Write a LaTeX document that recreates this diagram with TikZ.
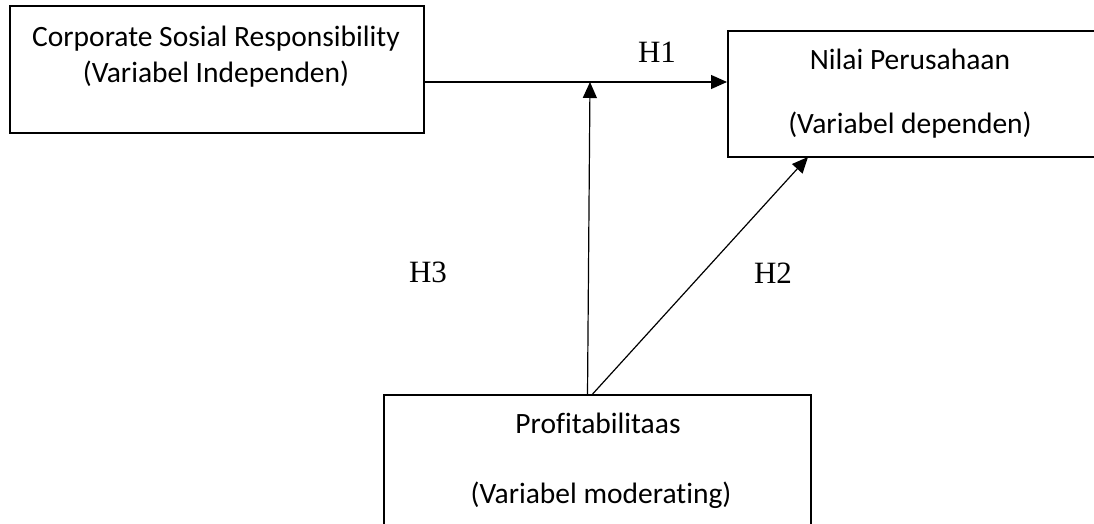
\documentclass[tikz,border=0pt]{standalone}
\usepackage{fontspec}
\setmainfont[Ligatures=NoCommon]{Carlito}
\newfontfamily\hfont{Liberation Serif}
\usetikzlibrary{arrows.meta}
\begin{document}
\begin{tikzpicture}[x=1pt,y=-1pt,
  boxnode/.style={draw,line width=2pt,inner sep=0pt,minimum width=#1},
  txt/.style={anchor=base,inner sep=0pt,font=\fontsize{29.5}{34}\selectfont},
  hlab/.style={inner sep=0pt,font=\hfont\fontsize{31}{36}\selectfont},
  arr/.style={line width=1.2pt,-{Triangle[length=16pt,width=14pt]}}]
\clip (0,0) rectangle (1094,524);
\fill[white] (0,0) rectangle (1094,524);
% boxes
\node[boxnode=414pt,minimum height=127pt] (box1) at (217,69.5) {};
\node[boxnode=382pt,minimum height=126pt] (box2) at (919,94) {};
\node[boxnode=427pt,minimum height=165pt] (box3) at (597.5,477) {};
% texts
\node[txt] (t1a) at (216,47) {Corporate Sosial Responsibility};
\node[txt] (t1b) at (216,83) {(Variabel Independen)};
\node[txt] (t2a) at (910,70) {Nilai Perusahaan};
\node[txt] (t2b) at (910,133) {(Variabel dependen)};
\node[txt] (t3a) at (598,433) {Profitabilitaas};
\node[txt] (t3b) at (601,503) {(Variabel moderating)};
% labels
\node[hlab] (h1) at (657,52) {H1};
\node[hlab] (h3) at (428,272) {H3};
\node[hlab] (h2) at (773,273) {H2};
% connectors
\coordinate (j) at (590,82);
\coordinate (s3) at (587.5,394.7);
\coordinate (s2) at (592,394.7);
\coordinate (e2) at (808,157);
\draw[arr] (box1.east |- j) -- (box2.west |- j);
\draw[arr] (s3) -- (j);
\draw[arr] (s2) -- (e2);
\end{tikzpicture}
\end{document}
